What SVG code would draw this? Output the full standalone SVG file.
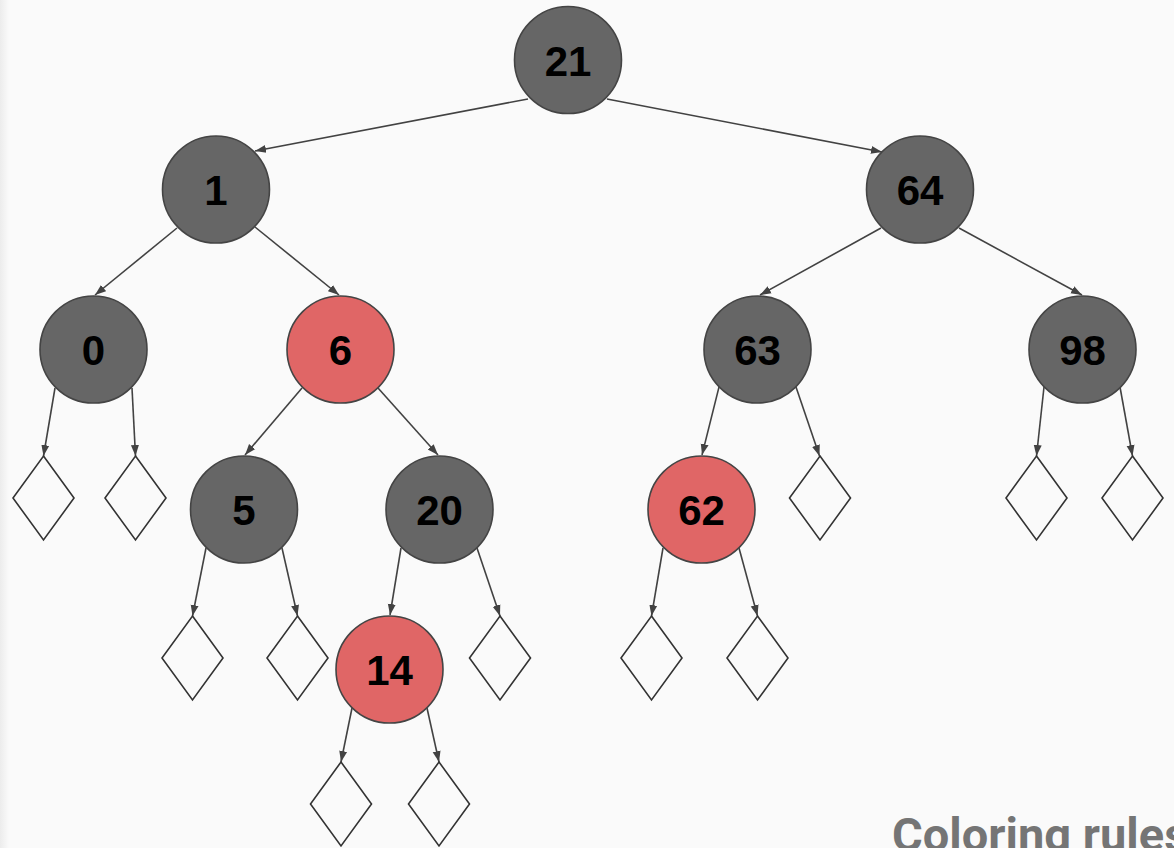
<svg xmlns="http://www.w3.org/2000/svg" width="1174" height="848" viewBox="0 0 1174 848">
<defs>
<linearGradient id="edge" x1="0" y1="0" x2="1" y2="0">
<stop offset="0" stop-color="#ececec"/>
<stop offset="1" stop-color="#fafafa"/>
</linearGradient>
<marker id="arr" markerUnits="userSpaceOnUse" markerWidth="12" markerHeight="10" refX="11" refY="5" orient="auto">
<path d="M0,1 L11,5 L0,9 z" fill="#424242"/>
</marker>
<polygon id="leaf" points="0,-42 30.5,0 0,42 -30.5,0" />
</defs>
<style>
.bg{fill:#fafafa}
.black circle{fill:#666666;stroke:#444444;stroke-width:1.6}
.red circle{fill:#e06666;stroke:#444444;stroke-width:1.6}
.node text{font-family:"Liberation Sans",Arial,sans-serif;font-weight:700;font-size:42px;fill:#000;text-anchor:middle}
.nil use{fill:#ffffff;fill-opacity:0;stroke:#333333;stroke-width:1.6}
#connectors line{stroke:#424242;stroke-width:1.6;marker-end:url(#arr)}
.title{font-family:Roboto,"Liberation Sans",sans-serif;font-weight:700;font-size:47px;fill:#757575}
</style>
<rect class="bg" x="0" y="0" width="1174" height="848"/>
<rect x="0" y="0" width="9" height="848" fill="url(#edge)"/>

<g id="connectors">
<line x1="528" y1="99" x2="255" y2="151"/>
<line x1="607" y1="99" x2="882" y2="152"/>
<line x1="177" y1="228" x2="95" y2="295"/>
<line x1="255" y1="227" x2="339" y2="295"/>
<line x1="881" y1="228" x2="760" y2="295"/>
<line x1="959" y1="228" x2="1082" y2="295"/>
<line x1="302" y1="388" x2="245" y2="455"/>
<line x1="378" y1="388" x2="438" y2="455"/>
<line x1="55" y1="388" x2="43.5" y2="456"/>
<line x1="132" y1="388" x2="135.5" y2="456"/>
<line x1="719" y1="387" x2="702" y2="455"/>
<line x1="796" y1="387" x2="819.5" y2="456"/>
<line x1="1044" y1="387" x2="1036.5" y2="456"/>
<line x1="1120" y1="387" x2="1132.5" y2="456"/>
<line x1="206" y1="548" x2="192.5" y2="616"/>
<line x1="282" y1="548" x2="297.5" y2="616"/>
<line x1="401" y1="548" x2="390" y2="615"/>
<line x1="477" y1="548" x2="500" y2="616"/>
<line x1="663" y1="548" x2="651.5" y2="616"/>
<line x1="739" y1="548" x2="757.5" y2="616"/>
<line x1="352" y1="708" x2="341" y2="762"/>
<line x1="427" y1="708" x2="439" y2="762"/>
</g>

<g id="n21" class="node black"><circle cx="568" cy="60" r="53.5"/><text x="568" y="76">21</text></g>
<g id="n1" class="node black"><circle cx="216" cy="189.5" r="53.5"/><text x="216" y="205">1</text></g>
<g id="n64" class="node black"><circle cx="920" cy="189.5" r="53.5"/><text x="920" y="205">64</text></g>
<g id="n0" class="node black"><circle cx="93.5" cy="349.5" r="53.5"/><text x="93.5" y="365">0</text></g>
<g id="n6" class="node red"><circle cx="340.5" cy="349.5" r="53.5"/><text x="340.5" y="365">6</text></g>
<g id="n63" class="node black"><circle cx="757.5" cy="349.5" r="53.5"/><text x="757.5" y="365">63</text></g>
<g id="n98" class="node black"><circle cx="1082.5" cy="349.5" r="53.5"/><text x="1082.5" y="365">98</text></g>
<g id="n5" class="node black"><circle cx="244" cy="509.5" r="53.5"/><text x="244" y="525">5</text></g>
<g id="n20" class="node black"><circle cx="439.5" cy="509.5" r="53.5"/><text x="439.5" y="525">20</text></g>
<g id="n62" class="node red"><circle cx="701.5" cy="509.5" r="53.5"/><text x="701.5" y="525">62</text></g>
<g id="n14" class="node red"><circle cx="389.5" cy="669.5" r="53.5"/><text x="389.5" y="685">14</text></g>

<g id="nil0a" class="nil"><use href="#leaf" x="43.5" y="498"/></g>
<g id="nil0b" class="nil"><use href="#leaf" x="135.5" y="498"/></g>
<g id="nil63b" class="nil"><use href="#leaf" x="820" y="498"/></g>
<g id="nil98a" class="nil"><use href="#leaf" x="1036.5" y="498"/></g>
<g id="nil98b" class="nil"><use href="#leaf" x="1132.5" y="498"/></g>
<g id="nil5a" class="nil"><use href="#leaf" x="192.5" y="658"/></g>
<g id="nil5b" class="nil"><use href="#leaf" x="297.5" y="658"/></g>
<g id="nil20b" class="nil"><use href="#leaf" x="500" y="658"/></g>
<g id="nil62a" class="nil"><use href="#leaf" x="651.5" y="658"/></g>
<g id="nil62b" class="nil"><use href="#leaf" x="757.5" y="658"/></g>
<g id="nil14a" class="nil"><use href="#leaf" x="341" y="804"/></g>
<g id="nil14b" class="nil"><use href="#leaf" x="439" y="804"/></g>

<text class="title" x="892" y="851">Coloring rules</text>
</svg>
